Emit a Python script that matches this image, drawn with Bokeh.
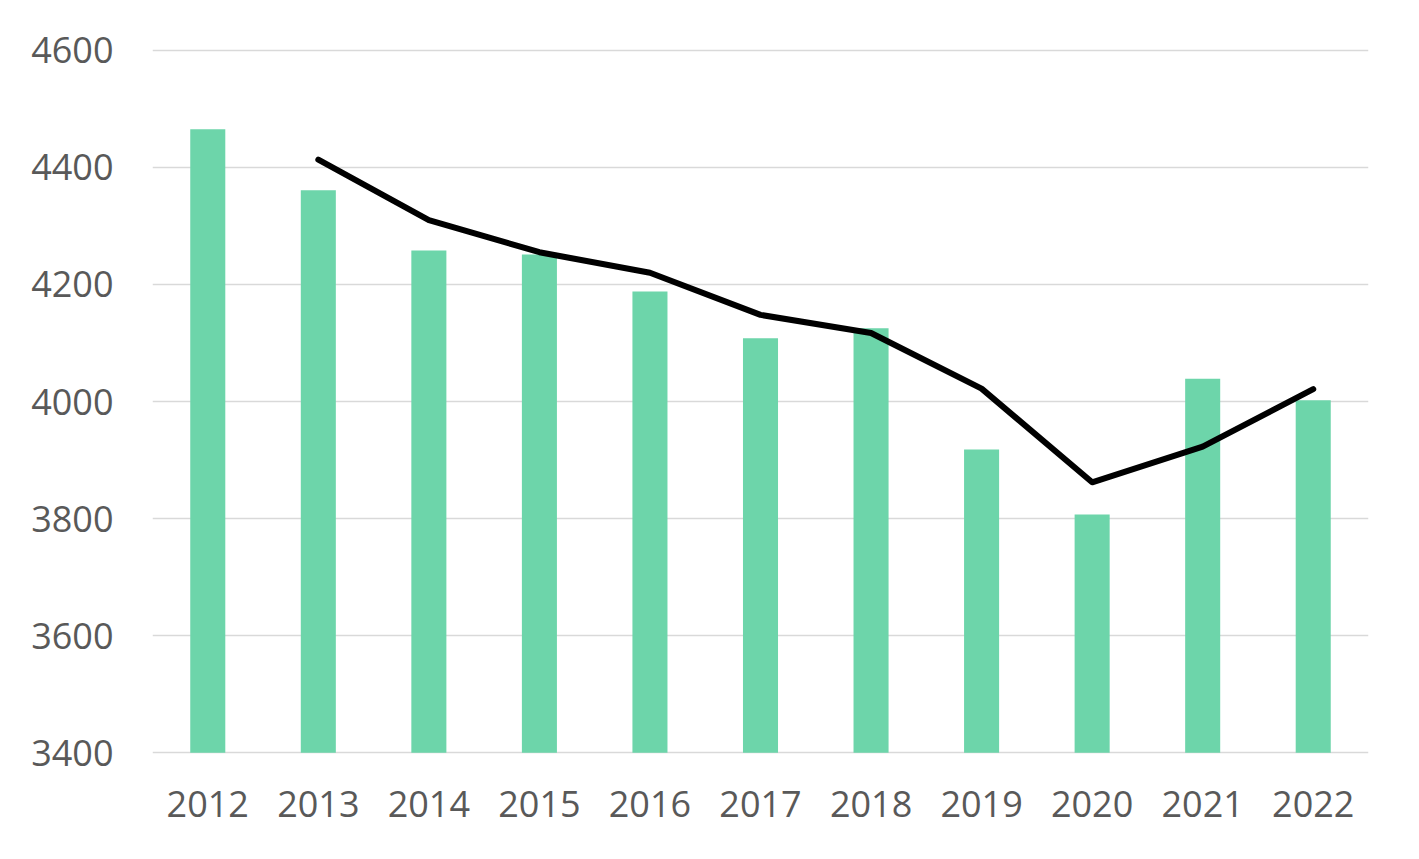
from bokeh.plotting import figure
from bokeh.models import FactorRange, Range1d, FixedTicker, ColumnDataSource
from bokeh.embed import file_html
from bokeh.resources import INLINE

years = ["2012", "2013", "2014", "2015", "2016", "2017", "2018", "2019", "2020", "2021", "2022"]
bar_values = [4465, 4361, 4258, 4251, 4188, 4108, 4125, 3918, 3807, 4039, 4002]
line_years = ["2013", "2014", "2015", "2016", "2017", "2018", "2019", "2020", "2021", "2022"]
line_values = [4413, 4310, 4255, 4220, 4148, 4117, 4022, 3862, 3923, 4021]
y_ticks = [3400, 3600, 3800, 4000, 4200, 4400, 4600]

FONT = "Open Sans"
TEXT_COLOR = "#595959"

p = figure(
    x_range=FactorRange(*years, range_padding=0),
    y_range=Range1d(3397, 4603),
    width=1403, height=843,
    min_border_left=152, min_border_right=35, min_border_top=48, min_border_bottom=89,
    output_backend="svg", toolbar_location=None,
)
p.outline_line_color = None
p.background_fill_color = "white"

bars = ColumnDataSource(dict(x=years, top=bar_values))
p.vbar(x="x", top="top", bottom=3400, width=0.317, source=bars,
       fill_color="#6DD5AA", line_color=None)

line = ColumnDataSource(dict(x=line_years, y=line_values))
p.line(x="x", y="y", source=line, line_color="#000000", line_width=6,
       line_cap="round", line_join="round")

p.yaxis.ticker = FixedTicker(ticks=y_ticks)
p.ygrid.grid_line_color = "#D9D9D9"
p.ygrid.grid_line_width = 1.5
p.xgrid.grid_line_color = None

for ax in (p.xaxis, p.yaxis):
    ax.axis_line_color = None
    ax.major_tick_line_color = None
    ax.minor_tick_line_color = None
    ax.major_label_text_font = FONT
    ax.major_label_text_font_size = "36px"
    ax.major_label_text_color = TEXT_COLOR

p.yaxis.major_label_standoff = 33
p.xaxis.major_label_standoff = 30

open("out.html", "w").write(file_html(p, INLINE))
